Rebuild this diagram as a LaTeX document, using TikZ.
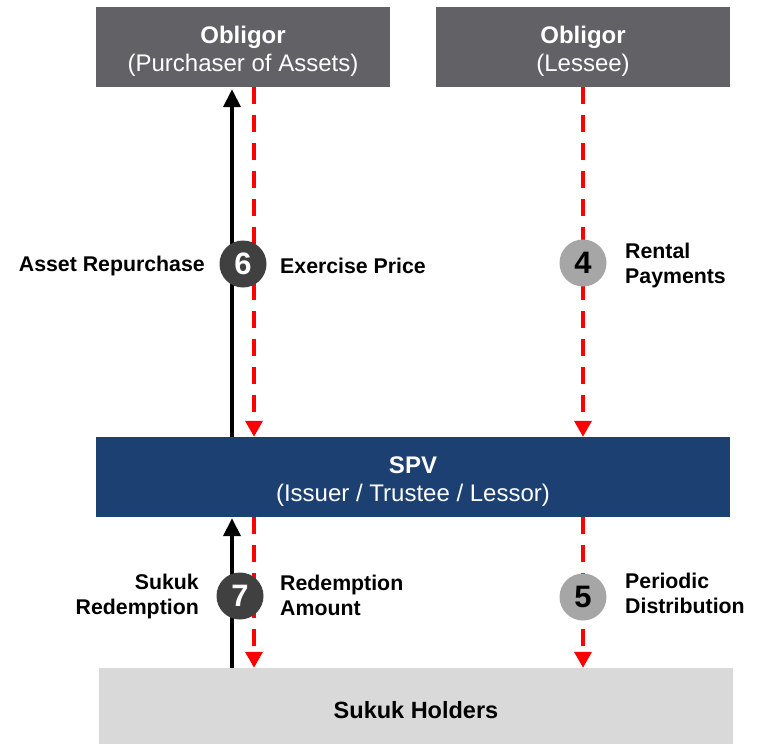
\documentclass[tikz,border=0pt]{standalone}
\usepackage{fontspec}
\setmainfont{Liberation Sans}
\usetikzlibrary{arrows.meta}

\definecolor{obgray}{RGB}{98,98,102}
\definecolor{spvblue}{RGB}{28,64,114}
\definecolor{holdgray}{RGB}{217,217,217}
\definecolor{stepdark}{RGB}{64,64,64}
\definecolor{steplight}{RGB}{166,166,166}
\definecolor{flowred}{RGB}{255,0,0}

% strut that lowers the text block inside a party box
\newcommand{\toppad}{\rule{0pt}{25.5pt}}

\begin{document}
\begin{tikzpicture}[x=1pt,y=-1pt,
  party/.style={rectangle, inner sep=0pt, minimum height=80pt, align=center,
    font=\fontsize{24}{28}\selectfont},
  assetflow/.style={line width=3.8pt, draw=black,
    -{Triangle[width=17pt,length=18pt]}},
  cashflow/.style={line width=3.5pt, draw=flowred, dash pattern=on 17pt off 11pt,
    -{Triangle[width=17pt,length=16pt]}},
  stepmark/.style={circle, minimum size=47pt, inner sep=0pt,
    font=\fontsize{31}{36}\selectfont\bfseries},
  flowlabel/.style={inner sep=0pt, font=\fontsize{21.3}{25}\selectfont\bfseries}
]
\useasboundingbox (0,0) rectangle (765,744);

% parties
\node[party, fill=obgray, text=white, minimum width=294pt] (ob1) at (243,47)
  {\toppad\textbf{Obligor}\\(Purchaser of Assets)};
\node[party, fill=obgray, text=white, minimum width=294pt] (ob2) at (583,47)
  {\toppad\textbf{Obligor}\\(Lessee)};
\node[party, fill=spvblue, text=white, minimum width=634pt] (spv) at (413,477)
  {\toppad\textbf{SPV}\\(Issuer / Trustee / Lessor)};
\node[party, fill=holdgray, text=black, minimum width=634pt, minimum height=76pt,
  font=\fontsize{23.5}{28}\selectfont\bfseries] (hold) at (416,706)
  {\rule{0pt}{25pt}Sukuk Holders};

% flow lanes
\coordinate (laneA) at (232,0);
\coordinate (laneB) at (254,0);
\coordinate (laneC) at (583,0);

% flows between obligors and SPV
\draw[assetflow, shorten >=2pt] (spv.north -| laneA) -- (ob1.south -| laneA);
\draw[cashflow] (ob1.south -| laneB) -- (spv.north -| laneB);
\draw[cashflow] (ob2.south -| laneC) -- (spv.north -| laneC);

% flows between SPV and holders
\draw[assetflow, shorten >=1pt] (hold.north -| laneA) -- (spv.south -| laneA);
\draw[cashflow] (spv.south -| laneB) -- (hold.north -| laneB);
\draw[cashflow] (spv.south -| laneC) -- (hold.north -| laneC);

% step markers
\node[stepmark, fill=stepdark, text=white] (s6) at (243,264) {6};
\node[stepmark, fill=steplight, text=black] (s4) at (583,263) {4};
\node[stepmark, fill=stepdark, text=white] (s7) at (240,596) {7};
\node[stepmark, fill=steplight, text=black] (s5) at (583,597) {5};

% flow labels
\node[flowlabel, anchor=east] (l6a) at (205,266) {Asset Repurchase};
\node[flowlabel, anchor=west] (l6b) at (280,266) {Exercise Price};
\node[flowlabel, anchor=west, align=left] (l4) at (625,265) {Rental\\Payments};
\node[flowlabel, anchor=east, align=right] (l7a) at (199,596) {Sukuk\\Redemption};
\node[flowlabel, anchor=west, align=left] (l7b) at (280,595) {Redemption\\Amount};
\node[flowlabel, anchor=west, align=left] (l5) at (625,593) {Periodic\\Distribution};
\end{tikzpicture}
\end{document}
